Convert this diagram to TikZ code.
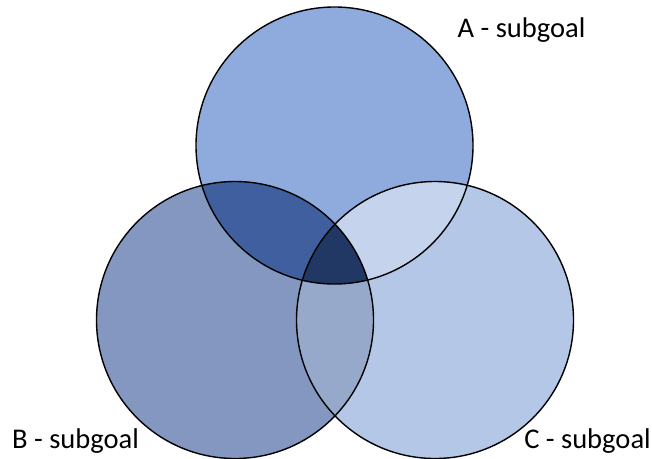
\documentclass[tikz,border=0pt]{standalone}
\usepackage{fontspec}
\setmainfont{Carlito}
\usepackage{tikz}

\definecolor{colA}{HTML}{8FAADC}
\definecolor{colB}{HTML}{8497C0}
\definecolor{colC}{HTML}{B4C7E7}
\definecolor{colAB}{HTML}{3F5F9E}
\definecolor{colAC}{HTML}{C5D3EC}
\definecolor{colBC}{HTML}{97A9CA}
\definecolor{colABC}{HTML}{213764}

\begin{document}
\begin{tikzpicture}[
    x=0.75pt, y=-0.75pt,
    ring/.style={draw=black, line width=1.05pt},
    setlabel/.style={font=\fontsize{21.4}{25}\selectfont, inner sep=0pt}
]
\useasboundingbox (0,0) rectangle (652,458);
\def\rad{138.5}

% centres
\coordinate (cA) at (334.5,145.5);
\coordinate (cB) at (235,320);
\coordinate (cC) at (435,320);

% plain fills
\fill[colA] (cA) circle[radius=\rad];
\fill[colB] (cB) circle[radius=\rad];
\fill[colC] (cC) circle[radius=\rad];

% overlaps
\begin{scope}
  \clip (cA) circle[radius=\rad];
  \fill[colAB] (cB) circle[radius=\rad];
  \fill[colAC] (cC) circle[radius=\rad];
\end{scope}
\begin{scope}
  \clip (cB) circle[radius=\rad];
  \fill[colBC] (cC) circle[radius=\rad];
\end{scope}
\begin{scope}
  \clip (cA) circle[radius=\rad];
  \clip (cB) circle[radius=\rad];
  \fill[colABC] (cC) circle[radius=\rad];
\end{scope}

% outlines
\draw[ring] (cA) circle[radius=\rad];
\draw[ring] (cB) circle[radius=\rad];
\draw[ring] (cC) circle[radius=\rad];

% labels
\node[setlabel] (labA) at (521.5,30) {A - subgoal};
\node[setlabel] (labB) at (75.5,441) {B - subgoal};
\node[setlabel] (labC) at (587.5,441) {C - subgoal};
\end{tikzpicture}
\end{document}
